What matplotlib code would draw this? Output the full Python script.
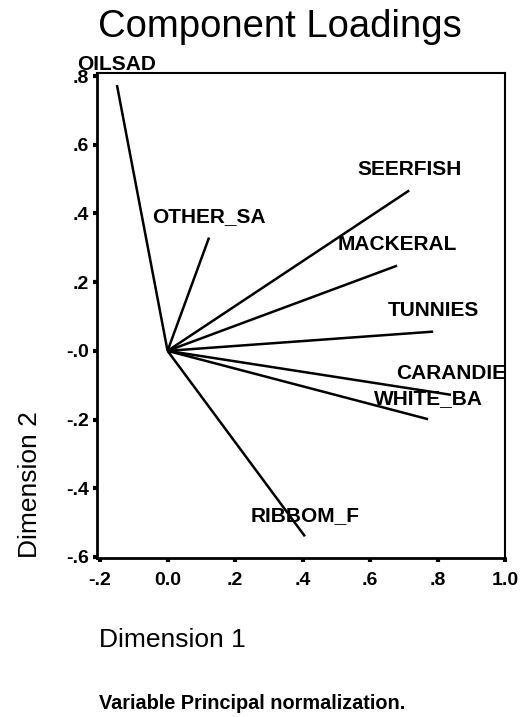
import numpy as np
import matplotlib.pyplot as plt

plt.rcParams['font.family'] = ['Liberation Sans', 'DejaVu Sans']

# loadings on the first two dimensions
variables = ["OILSAD", "OTHER_SA", "SEERFISH", "MACKERAL", "TUNNIES",
             "CARANDIE", "WHITE_BA", "RIBBOM_F"]
dim1 = [-0.15, 0.123, 0.716, 0.68, 0.787, 0.84, 0.772, 0.407]
dim2 = [0.774, 0.33, 0.467, 0.248, 0.056, -0.128, -0.199, -0.54]

xticks = [-0.2, 0.0, 0.2, 0.4, 0.6, 0.8, 1.0]
xticklabels = ["-.2", "0.0", ".2", ".4", ".6", ".8", "1.0"]
yticks = [0.8, 0.6, 0.4, 0.2, 0.0, -0.2, -0.4, -0.6]
yticklabels = [".8", ".6", ".4", ".2", "-.0", "-.2", "-.4", "-.6"]

fig = plt.figure(figsize=(5.29, 7.17), dpi=100)
ax = fig.add_axes([0.1834, 0.2218, 0.7713, 0.6764])

for name, x, y in zip(variables, dim1, dim2):
    ax.plot([0, x], [0, y], color='black', lw=1.8, solid_capstyle='butt')
    ax.annotate(name, (x, y), xytext=(0, 15), textcoords='offset points',
                ha='center', va='center', fontsize=15, fontweight='bold')

ax.set_xlim(-0.209, 1.0)
ax.set_ylim(-0.603, 0.809)
ax.set_xticks(xticks)
ax.set_xticklabels(xticklabels)
ax.set_yticks(yticks)
ax.set_yticklabels(yticklabels)
ax.tick_params(length=3, width=3, direction='out', labelsize=14)
ax.tick_params(axis='x', pad=7)
ax.tick_params(axis='y', pad=3)
for lab in ax.get_xticklabels() + ax.get_yticklabels():
    lab.set_fontweight('bold')
for side, s in ax.spines.items():
    s.set_color('black')
    s.set_linewidth(2 if side in ('left', 'bottom') else 1.5)

fig.text(0.529, 0.948, "Component Loadings", ha='center', va='baseline',
         fontsize=27.5)
fig.text(0.057, 0.2218, "Dimension 2", rotation=90, ha='center', va='bottom',
         fontsize=19)
fig.text(0.1875, 0.107, "Dimension 1", ha='left', va='center', fontsize=19)
fig.text(0.1875, 0.019, "Variable Principal normalization.", ha='left',
         va='center', fontsize=14.3, fontweight='bold')

fig.savefig('out.png', dpi=100)
